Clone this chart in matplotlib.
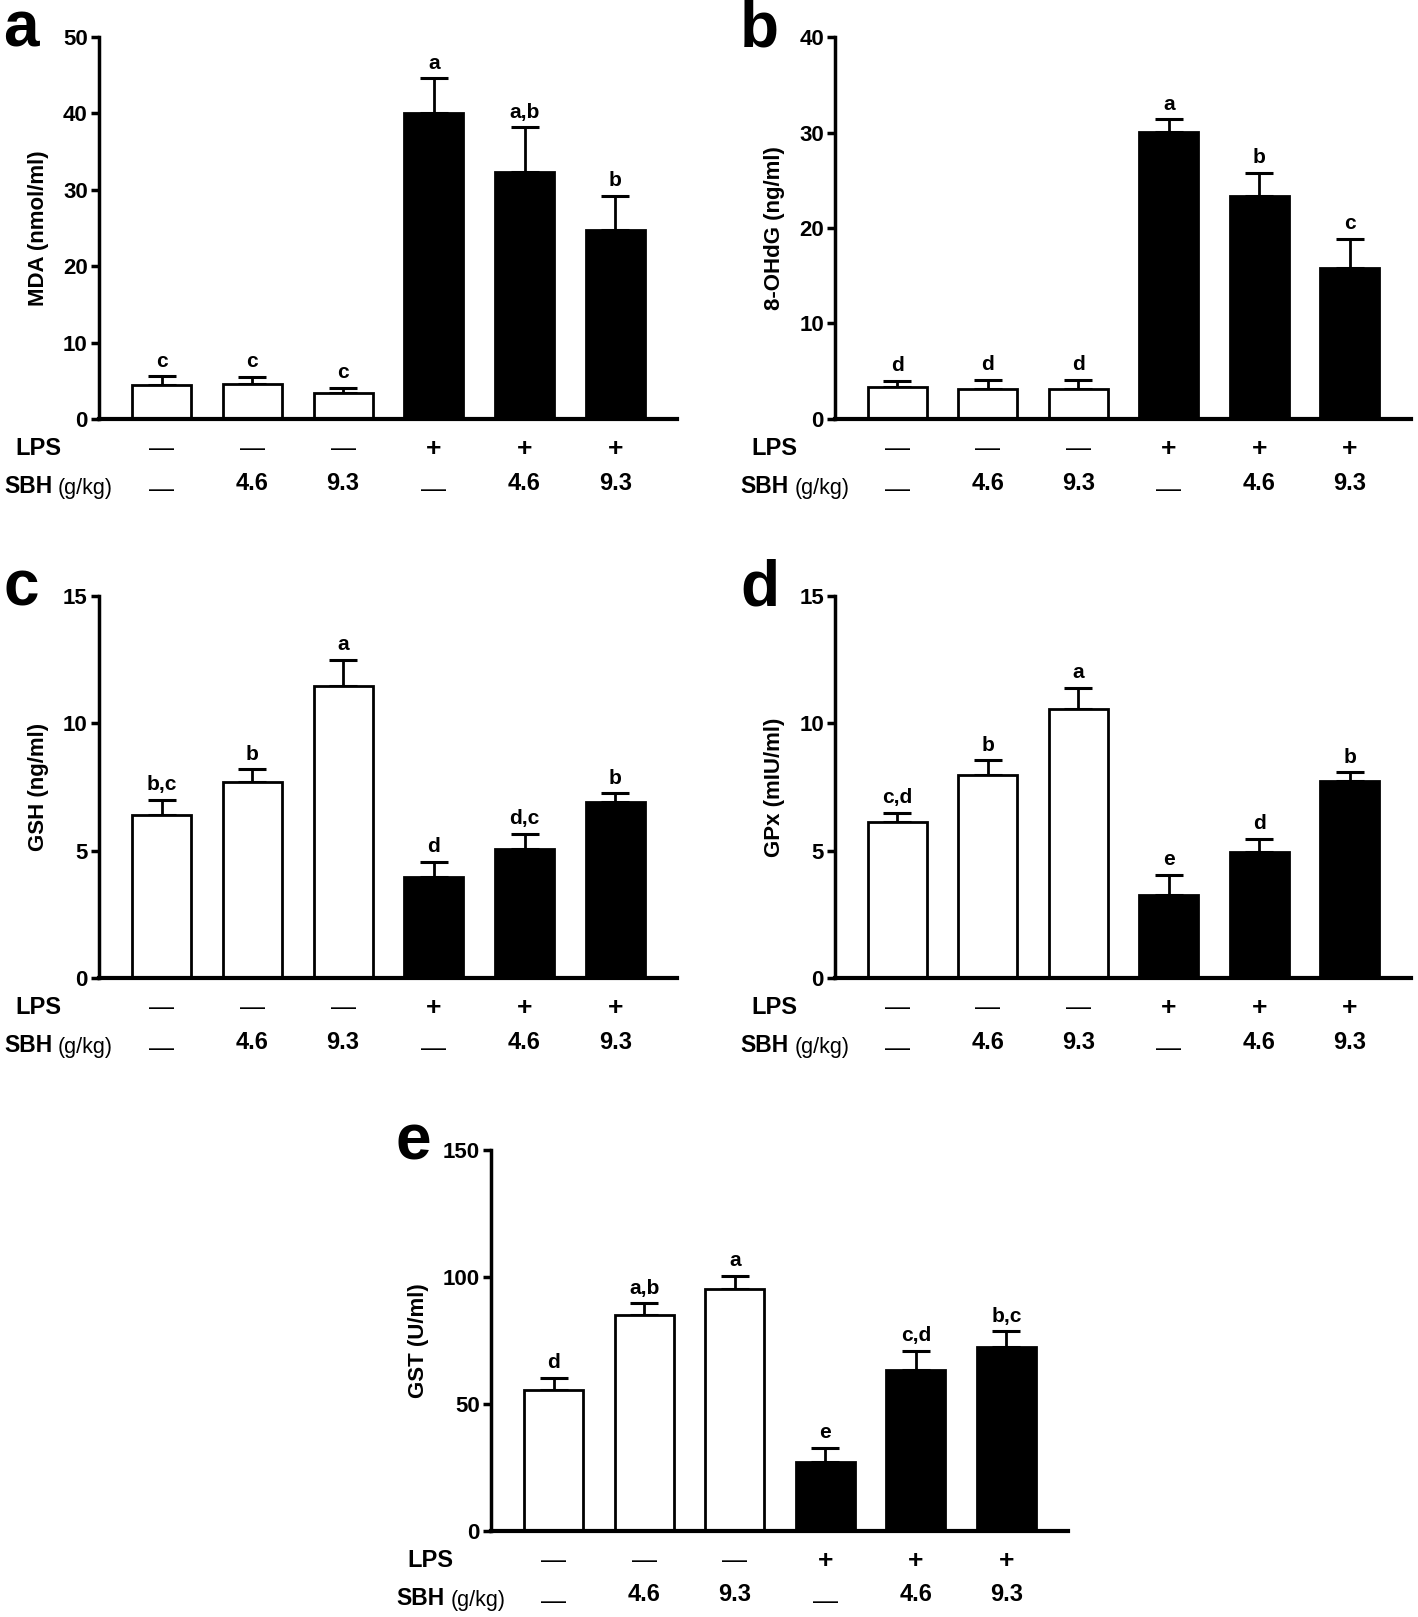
import matplotlib
matplotlib.use("Agg")
import matplotlib.pyplot as plt
from matplotlib.transforms import blended_transform_factory

FONT = ['Liberation Sans', 'DejaVu Sans']
plt.rcParams['font.family'] = FONT

# ---- data ----
lps_labels = ["\u2014", "\u2014", "\u2014", "+", "+", "+"]
sbh_labels = ["\u2014", "4.6", "9.3", "\u2014", "4.6", "9.3"]
fill_colors = ["white", "white", "white", "black", "black", "black"]

mda_mean = [4.5, 4.6, 3.4, 40.0, 32.3, 24.7]
mda_err = [1.1, 0.9, 0.7, 4.6, 5.9, 4.5]
mda_letters = ["c", "c", "c", "a", "a,b", "b"]

ohdg_mean = [3.35, 3.15, 3.1, 30.05, 23.4, 15.8]
ohdg_err = [0.65, 0.95, 1.0, 1.35, 2.4, 3.1]
ohdg_letters = ["d", "d", "d", "a", "b", "c"]

gsh_mean = [6.4, 7.7, 11.45, 3.97, 5.07, 6.93]
gsh_err = [0.6, 0.5, 1.05, 0.6, 0.6, 0.33]
gsh_letters = ["b,c", "b", "a", "d", "d,c", "b"]

gpx_mean = [6.12, 7.99, 10.58, 3.24, 4.95, 7.74]
gpx_err = [0.37, 0.56, 0.82, 0.81, 0.52, 0.33]
gpx_letters = ["c,d", "b", "a", "e", "d", "b"]

gst_mean = [55.5, 85.1, 95.3, 27.2, 63.2, 72.6]
gst_err = [4.9, 4.5, 5.2, 5.6, 7.7, 6.0]
gst_letters = ["d", "a,b", "a", "e", "c,d", "b,c"]

panels = [
    ("a", "MDA (nmol/ml)", mda_mean, mda_err, mda_letters, 50, 10, [0.0698, 0.7409, 0.4076, 0.2362]),
    ("b", "8-OHdG (ng/ml)", ohdg_mean, ohdg_err, ohdg_letters, 40, 10, [0.5889, 0.7409, 0.4062, 0.2362]),
    ("c", "GSH (ng/ml)", gsh_mean, gsh_err, gsh_letters, 15, 5, [0.0698, 0.3952, 0.4076, 0.2362]),
    ("d", "GPx (mIU/ml)", gpx_mean, gpx_err, gpx_letters, 15, 5, [0.5889, 0.3952, 0.4062, 0.2362]),
    ("e", "GST (U/ml)", gst_mean, gst_err, gst_letters, 150, 50, [0.3463, 0.0532, 0.4069, 0.2356]),
]

fig = plt.figure(figsize=(14.18, 16.17), dpi=100)

for letter, ylabel, mean, err, sig, ymax, ystep, pos in panels:
    ax = fig.add_axes(pos)
    x = list(range(len(mean)))
    ax.bar(x, mean, width=0.65, color=fill_colors, edgecolor="black", linewidth=2, zorder=3)
    ax.errorbar(x, mean, yerr=[[0] * len(err), err], fmt="none", ecolor="black",
                elinewidth=2, capsize=10, capthick=2.2, zorder=2)
    for xi, m, e, s in zip(x, mean, err, sig):
        ax.annotate(s, (xi, m + e), xytext=(0, 4), textcoords="offset points",
                    ha="center", va="bottom", fontsize=15, fontweight="bold")
    ax.set_xlim(-0.69, 5.68)
    ax.set_ylim(0, ymax)
    ax.set_yticks(range(0, ymax + 1, ystep))
    ax.set_xticks([])
    for side in ("top", "right"):
        ax.spines[side].set_visible(False)
    ax.spines["left"].set_linewidth(2.5)
    ax.spines["bottom"].set_linewidth(3)
    ax.spines["bottom"].set_zorder(4)
    ax.tick_params(axis="y", direction="out", length=6, width=2.5, labelsize=16, pad=2)
    for t in ax.get_yticklabels():
        t.set_fontweight("bold")
    ax.set_ylabel(ylabel, fontsize=16, fontweight="bold", labelpad=10)

    tr = blended_transform_factory(ax.transData, ax.transAxes)
    for xi, lab in zip(x, lps_labels):
        if lab == "+":
            ax.text(xi, -0.078, lab, transform=tr, ha="center", va="center",
                    fontsize=19, fontweight="bold")
        else:
            ax.text(xi, -0.078, lab, transform=tr, ha="center", va="center",
                    fontsize=18, fontweight="normal")
    for xi, lab in zip(x, sbh_labels):
        if lab == "\u2014":
            ax.text(xi, -0.187, lab, transform=tr, ha="center", va="center",
                    fontsize=18, fontweight="normal")
        else:
            ax.text(xi, -0.168, lab, transform=tr, ha="center", va="center",
                    fontsize=17, fontweight="bold")
    ax.text(-0.105, -0.078, "LPS", transform=ax.transAxes, ha="center", va="center",
            fontsize=17, fontweight="bold")
    t1 = ax.text(-0.164, -0.178, "SBH", transform=ax.transAxes, ha="left", va="center",
                 fontsize=16.5, fontweight="bold")
    ax.annotate("(g/kg)", xy=(1, 0.5), xycoords=t1, xytext=(4, -1),
                textcoords="offset points", ha="left", va="center",
                fontsize=15.5, fontweight="normal")
    ax.text(-0.165, 1.02, letter, transform=ax.transAxes, ha="left", va="center",
            fontsize=46, fontweight="bold")

fig.savefig("out.png", dpi=100, facecolor="white")
